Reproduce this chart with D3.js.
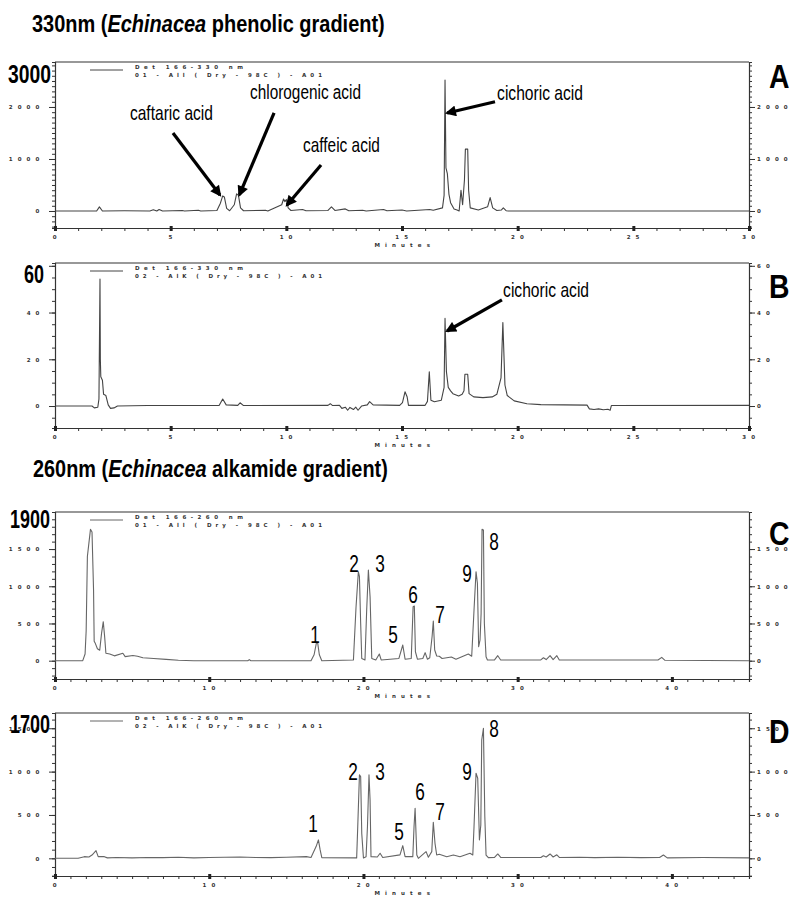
<!DOCTYPE html>
<html><head><meta charset="utf-8">
<script src="https://cdn.jsdelivr.net/npm/d3@7"></script>
<style>body{margin:0;background:#fff} svg{display:block}</style>
</head><body>
<svg id="chart" width="800" height="903"></svg>
<script>
// ---------------- DATA ----------------
const titleTop = ["330nm (", "Echinacea", " phenolic gradient)"];
const titleBottom = ["260nm (", "Echinacea", " alkamide gradient)"];
const panelLetters = ["A", "B", "C", "D"];
const bigAxisLabels = ["3000", "60", "1900", "1700"];

// chromatogram A: [minutes, mAU]
const traceA = [[0,0],[1.8,0],[1.92,80],[2.05,0],[3.0,5],[4.1,0],[4.25,25],[4.4,0],[4.5,30],[4.65,0],[5.5,10],[5.6,0],[6.2,15],[6.3,0],[7.0,10],[7.15,150],[7.25,290],[7.32,270],[7.42,50],[7.55,5],[7.75,120],[7.85,330],[7.93,300],[8.02,60],[8.15,5],[9.1,15],[9.2,0],[9.8,120],[9.88,230],[9.94,180],[10.0,220],[10.08,60],[10.2,10],[10.7,30],[10.85,5],[11.8,10],[11.95,80],[12.1,10],[12.55,40],[12.7,5],[13.3,15],[13.45,0],[14.2,30],[14.35,5],[15.0,20],[15.2,0],[16.2,30],[16.35,15],[16.75,60],[16.82,300],[16.86,2520],[16.9,830],[16.96,720],[17.03,320],[17.1,160],[17.25,40],[17.38,20],[17.47,0],[17.55,400],[17.62,120],[17.7,600],[17.74,1190],[17.84,1190],[17.88,400],[17.95,60],[18.3,20],[18.7,80],[18.81,257],[18.92,60],[19.1,10],[19.3,20],[19.38,60],[19.5,5],[19.6,0],[30,0]];
// chromatogram B
const traceB = [[0,0],[1.6,0],[1.7,-0.8],[1.85,-0.5],[1.9,3],[1.945,54.3],[1.96,20],[1.98,12.5],[2.05,11],[2.1,5],[2.2,4.5],[2.3,0.5],[2.4,-1],[2.55,-0.8],[2.7,0],[4.0,0.2],[7.1,0.3],[7.25,3],[7.4,0.5],[7.9,0.3],[8.0,1.4],[8.15,0.2],[11.8,0.3],[11.9,1.0],[12.0,0.2],[12.3,0.3],[12.4,-1.0],[12.55,-0.5],[12.65,-1.8],[12.75,-0.6],[12.9,-1.5],[13.0,-0.5],[13.1,-1.8],[13.25,0],[13.5,0.5],[13.6,1.9],[13.75,0.5],[14.9,0.3],[15.02,1.5],[15.13,6.1],[15.22,4],[15.28,0.3],[16.0,0.3],[16.1,2],[16.18,14.7],[16.25,2.5],[16.4,1.8],[16.7,2.5],[16.82,8],[16.86,37.5],[16.92,14.7],[17.0,8],[17.1,6.5],[17.2,5.3],[17.45,4.3],[17.6,5],[17.68,6.5],[17.72,13.6],[17.84,13.6],[17.9,5.3],[18.1,3.9],[18.5,3.6],[18.9,3.9],[19.1,5],[19.28,12],[19.36,35.7],[19.45,9],[19.55,4.5],[19.85,2.2],[20.4,1.0],[21.0,0.6],[23.0,0.4],[23.1,-1.2],[23.3,-1.5],[23.5,-1.2],[23.7,-1.6],[23.9,-1.4],[24.0,-1.8],[24.05,0.2],[30,0.3]];
// chromatogram C
const traceC = [[0,0],[1.8,0],[1.95,90],[2.02,400],[2.1,1400],[2.22,1620],[2.3,1765],[2.4,1730],[2.5,950],[2.54,260],[2.62,230],[2.75,160],[2.9,140],[3.02,370],[3.13,524],[3.22,320],[3.3,100],[3.55,90],[3.85,65],[4.4,100],[4.55,55],[5.05,70],[5.35,60],[5.7,40],[6.4,30],[7.2,18],[8.0,5],[9.0,0],[12.5,0],[12.6,15],[12.7,0],[16.6,0],[16.8,80],[16.95,240],[17.03,242],[17.14,80],[17.3,0],[19.35,10],[19.52,726],[19.67,1196],[19.74,1129],[19.82,502],[19.89,30],[20.1,10],[20.21,681],[20.32,1219],[20.43,860],[20.54,30],[20.8,10],[21.03,90],[21.15,10],[22.3,30],[22.55,211],[22.7,20],[23.1,30],[23.22,726],[23.3,735],[23.37,120],[23.5,20],[23.85,30],[24.0,108],[24.15,20],[24.3,40],[24.45,322],[24.53,533],[24.62,143],[24.75,63],[24.92,60],[25.1,30],[25.7,50],[26.0,20],[26.8,90],[27.02,60],[27.17,681],[27.3,1196],[27.39,1040],[27.47,188],[27.56,278],[27.63,636],[27.69,1765],[27.78,1756],[27.84,502],[27.95,54],[28.04,10],[28.5,10],[28.71,67],[28.9,10],[31.5,10],[31.67,40],[31.85,15],[32.1,67],[32.3,15],[32.54,67],[32.7,10],[39.1,10],[39.34,45],[39.55,5],[45,0]];
// chromatogram D
const traceD = [[0,0],[1.5,0],[1.9,19],[2.2,15],[2.4,38],[2.66,88],[2.8,19],[3.2,19],[3.4,5],[4.0,10],[5.0,5],[6.0,10],[7.0,8],[8.0,12],[9.0,5],[10.0,10],[11.0,12],[12.0,15],[13.0,10],[14.0,8],[15.0,12],[16.3,19],[16.6,10],[16.93,135],[17.08,212],[17.19,100],[17.3,8],[19.56,5],[19.63,365],[19.74,962],[19.82,942],[19.89,288],[20.0,5],[20.17,19],[20.26,365],[20.36,962],[20.43,673],[20.49,19],[20.9,15],[21.08,58],[21.25,10],[22.37,40],[22.55,146],[22.7,19],[23.2,19],[23.28,365],[23.35,577],[23.46,38],[23.56,0],[24.06,77],[24.21,12],[24.43,77],[24.53,415],[24.64,173],[24.75,38],[24.92,46],[25.4,19],[25.83,38],[26.26,19],[26.91,58],[27.09,38],[27.17,365],[27.3,981],[27.41,923],[27.52,212],[27.61,385],[27.67,1365],[27.78,1500],[27.87,481],[27.95,38],[28.1,8],[28.5,10],[28.71,50],[28.9,10],[31.5,10],[31.67,30],[31.85,15],[32.1,50],[32.3,15],[32.54,40],[32.7,10],[34.0,12],[35.0,8],[36.5,12],[38.0,8],[39.2,10],[39.45,38],[39.7,5],[42.0,10],[45,5]];

// tick labels
const xTicksAB = [0,5,10,15,20,25,30];
const xTicksCD = [0,10,20,30,40];
const yTicksA = [0,1000,2000];
const yTicksB = [0,20,40];
const yTicksBRight = [0,20,40,60];
const yTicksC = [0,500,1000,1500];
const yTicksD = [0,500,1000,1500];

// legend text
const legendA = ["Det 166-330 nm", "01 - All ( Dry - 98C ) - A01"];
const legendB = ["Det 166-330 nm", "02 - AlK ( Dry - 98C ) - A01"];
const legendC = ["Det 166-260 nm", "01 - All ( Dry - 98C ) - A01"];
const legendD = ["Det 166-260 nm", "02 - AlK ( Dry - 98C ) - A01"];

// compound annotations [text, textMin, textVal, arrowFromMin, arrowFromVal, arrowToMin, arrowToVal]
const annotA = [
  ["caftaric acid", 3.24, 1750, 5.10, 1500, 7.13, 308],
  ["chlorogenic acid", 8.43, 2154, 9.47, 1885, 7.97, 308],
  ["caffeic acid", 10.72, 1135, 11.5, 885, 10.03, 115],
  ["cichoric acid", 19.11, 2135, 19.02, 2100, 16.95, 1885]
];
const annotB = [["cichoric acid", 19.37, 46.7, 19.32, 45.4, 16.95, 32.1]];
// peak numbers [label, minutes, value]
const peaksC = [["1",16.86,238],["2",19.39,1192],["3",21.08,1192],["5",21.92,238],["6",23.22,776],["7",24.97,507],["9",26.72,1058],["8",28.47,1488]];
const peaksD = [["1",16.73,303],["2",19.33,903],["3",21.08,903],["5",22.31,211],["6",23.67,672],["7",24.97,442],["9",26.72,903],["8",28.47,1399]];

// ---------------- DRAW ----------------
const svg = d3.select("#chart");
const SANS = "'Liberation Sans',Arial,Helvetica,sans-serif";
const defs = svg.append("defs");
defs.append("marker").attr("id","arrow").attr("viewBox","0 0 10 10")
  .attr("refX",8).attr("refY",5).attr("markerWidth",13).attr("markerHeight",11)
  .attr("markerUnits","userSpaceOnUse").attr("orient","auto")
  .append("path").attr("d","M0,0 L10,5 L0,10 z").attr("fill","#000");

// condense a text horizontally, either to a target width or by a factor
function condense(sel, width, factor) {
  const x = +sel.attr("x"), y = +sel.attr("y");
  const w = sel.node().getComputedTextLength();
  const s = width ? width / w : factor;
  sel.attr("x",0).attr("y",0).attr("transform",`translate(${x},${y}) scale(${s},1)`);
}

function title(parts, x, y, width) {
  const t = svg.append("text").attr("x",x).attr("y",y)
    .attr("font-family",SANS).attr("font-weight","bold").attr("font-size",24).attr("fill","#000");
  parts.forEach((p,i)=> t.append("tspan").text(p).attr("font-style", i===1 ? "italic" : "normal"));
  condense(t, width);
}
title(titleTop, 32, 32, 353);
title(titleBottom, 33, 477, 355);

const spaced = s => String(s).split("").join(" ");

const panels = [
  {trace:traceA, xMax:30, top:62, bottom:228, yDom:[-327,2865], yMinor:100, yMajor:1000, left:yTicksA, right:yTicksA, xTicks:xTicksAB, xMajor:5, legend:legendA, color:"#444", letterY:88, bigY:83, bigX:51, bigW:43},
  {trace:traceB, xMax:30, top:263, bottom:428, yDom:[-9.4,61.2], yMinor:5, yMajor:20, left:yTicksB, right:yTicksBRight, xTicks:xTicksAB, xMajor:5, legend:legendB, color:"#444", letterY:298, bigY:283, bigX:44, bigW:20},
  {trace:traceC, xMax:45, top:512, bottom:679, yDom:[-246,1998], yMinor:100, yMajor:500, left:yTicksC, right:yTicksC, xTicks:xTicksCD, xMajor:10, legend:legendC, color:"#666", letterY:545, bigY:528, bigX:50, bigW:40},
  {trace:traceD, xMax:45, top:713, bottom:876, yDom:[-204,1676], yMinor:100, yMajor:500, left:yTicksD, right:yTicksD, xTicks:xTicksCD, xMajor:10, legend:legendD, color:"#666", letterY:743, bigY:733, bigX:50, bigW:40}
];
const L = 55, R = 749;

panels.forEach((p, idx) => {
  const g = svg.append("g");
  const x = d3.scaleLinear().domain([0, p.xMax]).range([L, R]);
  const y = d3.scaleLinear().domain(p.yDom).range([p.bottom, p.top]);
  p.x = x; p.y = y;

  g.append("line").attr("x1",L).attr("x2",R).attr("y1",p.top).attr("y2",p.top).attr("stroke","#333").attr("stroke-width",1.2);

  const minors = d3.range(Math.ceil(p.yDom[0]/p.yMinor)*p.yMinor, p.yDom[1], p.yMinor);
  const majors = minors.filter(v => Math.abs(v % p.yMajor) < 1e-9);

  const la = g.append("g").attr("transform",`translate(${L},0)`)
    .call(d3.axisLeft(y).tickValues(minors).tickSize(3).tickFormat(""));
  la.select(".domain").attr("stroke","#333").attr("stroke-width",1.2);
  const lm = g.append("g").attr("transform",`translate(${L},0)`)
    .call(d3.axisLeft(y).tickValues(majors).tickSize(6).tickPadding(8)
      .tickFormat(d => p.left.includes(d) ? spaced(d) : ""));
  lm.select(".domain").remove();
  const ra = g.append("g").attr("transform",`translate(${R},0)`)
    .call(d3.axisRight(y).tickValues(minors).tickSize(3).tickFormat(""));
  ra.select(".domain").attr("stroke","#333").attr("stroke-width",1.2);
  const rm = g.append("g").attr("transform",`translate(${R},0)`)
    .call(d3.axisRight(y).tickValues(majors.concat(p.right.filter(v=>!majors.includes(v)))).tickSize(6).tickPadding(2)
      .tickFormat(d => p.right.includes(d) ? spaced(d) : ""));
  rm.select(".domain").remove();

  const xMinors = d3.range(0, p.xMax + 0.001, 1);
  const ba = g.append("g").attr("transform",`translate(0,${p.bottom})`)
    .call(d3.axisBottom(x).tickValues(xMinors).tickSize(3).tickFormat(""));
  ba.select(".domain").attr("stroke","#333").attr("stroke-width",1.2);
  const bm = g.append("g").attr("transform",`translate(0,${p.bottom})`)
    .call(d3.axisBottom(x).tickValues(d3.range(0, p.xMax + 0.001, p.xMajor)).tickSize(0).tickPadding(7)
      .tickFormat(d => p.xTicks.includes(d) ? spaced(d) : ""));
  bm.select(".domain").remove();
  bm.selectAll(".tick").append("rect").attr("x",-1.5).attr("y",-2).attr("width",3).attr("height",5).attr("fill","#222");

  [la, lm, ra, rm, ba, bm].forEach(a => {
    a.selectAll(".tick line").attr("stroke","#333");
    a.selectAll("text").attr("font-family","'DejaVu Sans',sans-serif").attr("font-size",5.5)
      .attr("font-weight","bold").attr("fill","#333").attr("letter-spacing",1.6);
  });
  g.append("text").attr("x",(L+R)/2 + 1).attr("y",p.bottom + 19).attr("text-anchor","middle")
    .attr("font-family","'DejaVu Sans',sans-serif").attr("font-size",5.5).attr("font-weight","bold")
    .attr("fill","#333").attr("letter-spacing",1.6).text(spaced("Minutes"));

  const ly = p.top + 8;
  g.append("line").attr("x1",90).attr("x2",123).attr("y1",ly).attr("y2",ly).attr("stroke",p.color).attr("stroke-width",1);
  p.legend.forEach((s,i) => {
    g.append("text").attr("x",135).attr("y",ly - 1 + i*7.5)
      .attr("font-family","'DejaVu Sans',sans-serif").attr("font-size",5.5).attr("font-weight","bold").attr("fill","#333")
      .attr("textLength", i===0 ? 108 : 187).attr("lengthAdjust","spacing").text(s);
  });

  const line = d3.line().x(d => x(d[0])).y(d => y(d[1]));
  g.append("path").datum(p.trace).attr("d", line).attr("fill","none")
    .attr("stroke",p.color).attr("stroke-width",1.1).attr("stroke-linejoin","round");

  const lt = g.append("text").attr("x",769).attr("y",p.letterY).attr("font-family",SANS).attr("font-weight","bold")
    .attr("font-size",33).attr("fill","#000").text(panelLetters[idx]);
  condense(lt, null, 0.86);
  const bl = g.append("text").attr("x",p.bigX).attr("y",p.bigY).attr("text-anchor","end").attr("font-family",SANS)
    .attr("font-weight","bold").attr("font-size",25).attr("fill","#000").text(bigAxisLabels[idx]);
  condense(bl, p.bigW);
});

const annotWidths = {"caftaric acid":83, "chlorogenic acid":111, "caffeic acid":77, "cichoric acid":86};
function annotate(p, list) {
  list.forEach(a => {
    const t = svg.append("text").attr("x",p.x(a[1])).attr("y",p.y(a[2])).attr("font-family",SANS)
      .attr("font-size",20).attr("fill","#000").text(a[0]);
    condense(t, annotWidths[a[0]]);
    svg.append("line").attr("x1",p.x(a[3])).attr("y1",p.y(a[4])).attr("x2",p.x(a[5])).attr("y2",p.y(a[6]))
      .attr("stroke","#000").attr("stroke-width",3.2).attr("marker-end","url(#arrow)");
  });
}
annotate(panels[0], annotA);
annotate(panels[1], annotB);

function peakLabels(p, list) {
  list.forEach(a => {
    const t = svg.append("text").attr("x",p.x(a[1])).attr("y",p.y(a[2])).attr("text-anchor","middle")
      .attr("font-family",SANS).attr("font-size",23).attr("fill","#000").text(a[0]);
    condense(t, null, 0.75);
  });
}
peakLabels(panels[2], peaksC);
peakLabels(panels[3], peaksD);
</script>
</body></html>
